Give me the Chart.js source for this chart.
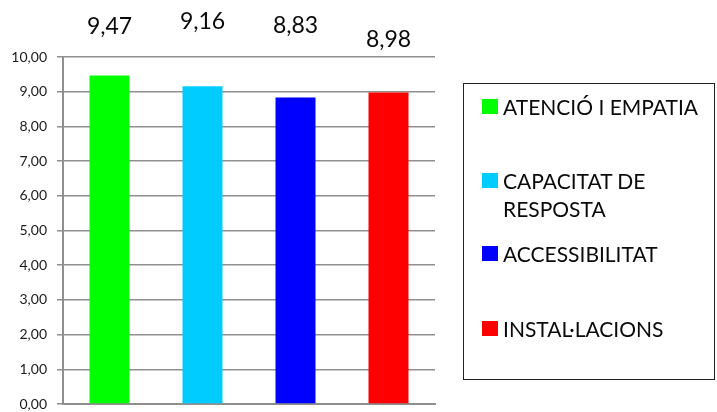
<!DOCTYPE html>
<html>
<head>
<meta charset="utf-8">
<script src="https://cdn.jsdelivr.net/npm/chart.js@4/dist/chart.umd.min.js"></script>
<style>
  html, body { margin: 0; padding: 0; background: #fff; }
  #wrap { position: relative; width: 717px; height: 412px; }
  #c { position: absolute; left: 0; top: 0; }
  #legend { position: absolute; left: 463px; top: 83px; width: 250px; height: 295px;
            border: 1.5px solid #222; box-sizing: content-box; font-family: Lato, "Open Sans", sans-serif; }
  .item { position: absolute; left: 18px; font-size: 21px; line-height: 28px; color: #0a0a0a; width: 230px; }
  .sw { position: absolute; left: 0; top: 6px; width: 16px; height: 15px; }
  .txt { position: absolute; left: 21px; width: 205px; }
</style>
</head>
<body>
<div id="wrap">
  <canvas id="c" width="717" height="412"></canvas>
  <div id="legend"></div>
</div>
<script>
const categories = ["ATENCIÓ I EMPATIA", "CAPACITAT DE RESPOSTA", "ACCESSIBILITAT", "INSTAL·LACIONS"];
const values = [9.47, 9.16, 8.83, 8.98];
const colors = ["#00ff00", "#00ccff", "#0000ff", "#ff0000"];
const yTicks = [0, 1, 2, 3, 4, 5, 6, 7, 8, 9, 10];

const fmt = v => v.toFixed(2).replace('.', ',');

// value labels drawn above the plot
const labelTop = [27, 22, 26, 40];
const valueLabels = {
  id: 'valueLabels',
  afterDraw(chart) {
    const ctx = chart.ctx;
    const xs = chart.scales.x;
    ctx.save();
    ctx.font = '23px Lato, "Open Sans", sans-serif';
    ctx.fillStyle = '#0a0a0a';
    ctx.textAlign = 'center';
    ctx.textBaseline = 'middle';
    values.forEach((v, i) => {
      ctx.fillText(fmt(v), xs.getPixelForValue(i), labelTop[i]);
    });
    ctx.restore();
  }
};

new Chart(document.getElementById('c'), {
  type: 'bar',
  data: {
    labels: categories,
    datasets: [{
      data: values,
      backgroundColor: colors,
      borderWidth: 0,
      categoryPercentage: 1,
      barPercentage: 0.43
    }]
  },
  options: {
    responsive: false,
    animation: false,
    devicePixelRatio: 1,
    layout: { padding: { left: 0, top: 57, right: 282, bottom: 8 } },
    plugins: { legend: { display: false }, tooltip: { enabled: false } },
    scales: {
      x: {
        afterFit: s => { s.height = 0; s.paddingLeft = 0; s.paddingRight = 0; },
        ticks: { display: false },
        grid: { display: false, drawTicks: false },
        border: { display: true, color: '#8f8f8f', width: 2 }
      },
      y: {
        min: 0, max: 10,
        afterBuildTicks: s => { s.ticks = yTicks.map(v => ({ value: v })); },
        afterFit: s => { s.width = 63; s.paddingTop = 0; s.paddingBottom = 0; },
        ticks: {
          callback: v => fmt(v),
          padding: 10,
          color: '#1a1a1a',
          font: { family: 'Lato, "Open Sans", sans-serif', size: 14 }
        },
        grid: { color: '#8f8f8f', lineWidth: 1.5, tickLength: 6, tickColor: '#8f8f8f' },
        border: { display: true, color: '#8f8f8f', width: 2 }
      }
    }
  },
  plugins: [valueLabels]
});

// HTML legend
const legendTops = [9, 83, 156, 231];
const lg = document.getElementById('legend');
categories.forEach((c, i) => {
  const it = document.createElement('div');
  it.className = 'item';
  it.style.top = legendTops[i] + 'px';
  it.innerHTML = '<div class="sw" style="background:' + colors[i] + '"></div><div class="txt"></div>';
  it.querySelector('.txt').textContent = c;
  lg.appendChild(it);
});
</script>
</body>
</html>
